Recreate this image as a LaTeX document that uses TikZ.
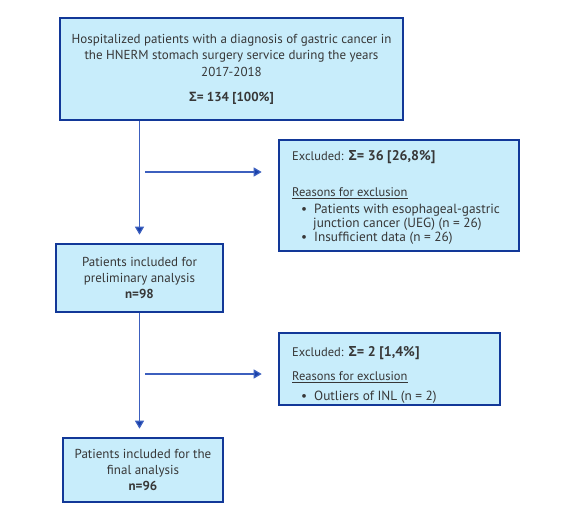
\documentclass[tikz,border=0pt]{standalone}
\usepackage{fontspec}
\setmainfont{PT Sans}
\newfontfamily\sigfont{Open Sans}
\newcommand{\Sig}{{\sigfont\bfseries Σ}}
\newcommand{\bul}{\fontsize{13.3}{13}\selectfont}
\usetikzlibrary{arrows.meta,calc}
\definecolor{boxfill}{RGB}{200,237,251}
\definecolor{boxdraw}{RGB}{18,56,152}
\definecolor{linecol}{RGB}{60,95,190}
\definecolor{headcol}{RGB}{25,65,170}
\definecolor{txt}{RGB}{55,55,55}
\begin{document}
\begin{tikzpicture}[x=1pt,y=-1pt,
  box/.style={draw=boxdraw,fill=boxfill,line width=2.6pt,rectangle,inner sep=0pt,
    text=txt,font=\fontsize{13}{16}\selectfont},
  extext/.style={inner sep=0pt,text=txt,align=left,anchor=north west,
    font=\fontsize{12.5}{13}\selectfont},
  conn/.style={draw=linecol,line width=1.2pt,-{Triangle[length=8pt,width=9pt,fill=headcol]},shorten >=8pt},
  hconn/.style={conn,shorten >=16pt}]
\useasboundingbox (0,0) rectangle (567,514);

\node[box,minimum width=343pt,minimum height=102pt,align=center,
      font=\fontsize{13}{16.7}\selectfont] (b1) at (231.5,69)
  {Hospitalized patients with a diagnosis of gastric cancer in\\
   the HNERM stomach surgery service during the years\\
   2017-2018\\[8pt]
   {\bfseries \Sig= 134 [100\%]}};

\node[box,minimum width=240pt,minimum height=111pt] (e1) at (399,195.5) {};
\node[extext] (e1t) at (292,150)
  {Excluded:\hspace{5pt}{\fontsize{14}{14}\selectfont\bfseries \Sig= 36 [26,8\%]}\\[23pt]
   \underline{Reasons for exclusion}\\[4pt]
   {\bul\hspace*{9pt}•\hspace{7pt}Patients with esophageal-gastric}\\[1.2pt]
   {\bul\hspace*{21pt}junction cancer (UEG) (n = 26)}\\[1.2pt]
   {\bul\hspace*{9pt}•\hspace{7pt}Insufficient data (n = 26)}};

\node[box,minimum width=167pt,minimum height=68pt,align=center] (b2) at (139.5,278)
  {Patients included for\\ preliminary analysis\\ {\bfseries n=98}};

\node[box,minimum width=221pt,minimum height=72pt] (e2) at (389.5,369) {};
\node[extext] (e2t) at (292,346)
  {Excluded:\hspace{5pt}{\fontsize{14}{14}\selectfont\bfseries \Sig= 2 [1,4\%]}\\[11pt]
   \underline{Reasons for exclusion}\\[7pt]
   {\bul\hspace*{9pt}•\hspace{7pt}Outliers of INL (n = 2)}};

\node[box,minimum width=160pt,minimum height=64pt,align=center] (b3) at (143,470)
  {Patients included for the\\ final analysis\\ {\bfseries n=96}};

\coordinate (h1) at (145,172);
\coordinate (h2) at (145,374);

\draw[conn] (b1.south -| b2.north) -- (b2.north);
\draw[conn] (b2.south) -- (b2.south |- b3.north);
\draw[hconn] (h1) -- (h1 -| e1.west);
\draw[hconn] (h2) -- (h2 -| e2.west);
\end{tikzpicture}
\end{document}
